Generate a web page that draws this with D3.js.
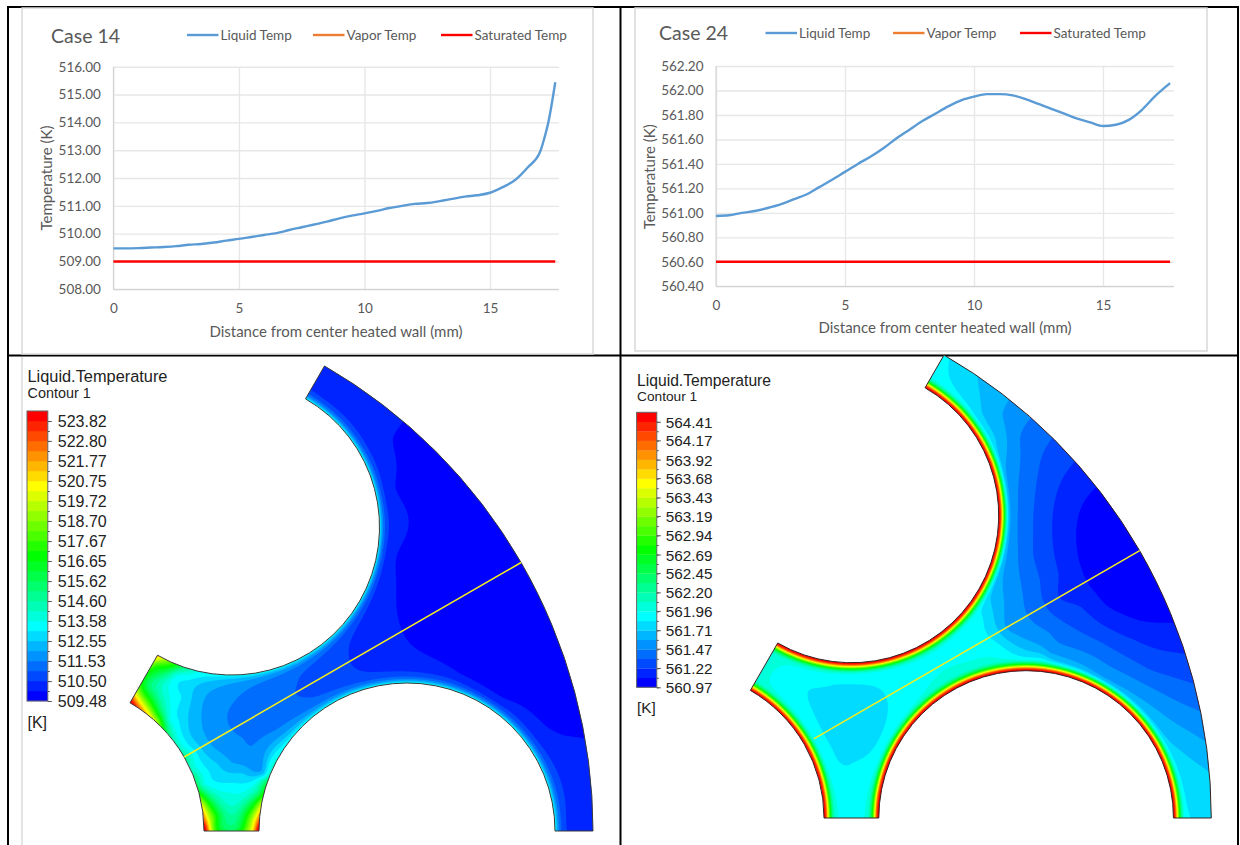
<!DOCTYPE html>
<html>
<head>
<meta charset="utf-8">
<script src="https://cdn.jsdelivr.net/npm/d3@7"></script>
<style>
  html, body { margin: 0; padding: 0; background: #fff; }
  svg { display: block; }
  .chart text { font-family: Lato, "Open Sans", sans-serif; fill: #595959; }
  .contour text { font-family: "Liberation Sans", Arial, sans-serif; fill: #222; }
  .body { filter: blur(0.5px); }
</style>
</head>
<body>
<svg width="1240" height="845"></svg>
<script>
// line charts
var case14Distance = [0, 0.5, 1, 1.5, 2, 2.5, 3, 3.5, 4, 4.5, 5, 5.5, 6, 6.5, 7, 7.5, 8, 8.5, 9, 9.5, 10, 10.5, 11, 11.5, 12, 12.5, 13, 13.5, 14, 14.5, 15, 15.5, 16, 16.5, 17, 17.2, 17.3, 17.6];
var case14Liquid = [509.47, 509.47, 509.48, 509.5, 509.52, 509.55, 509.6, 509.63, 509.68, 509.75, 509.81, 509.88, 509.95, 510.02, 510.13, 510.23, 510.33, 510.43, 510.55, 510.65, 510.73, 510.82, 510.92, 511.0, 511.07, 511.1, 511.17, 511.25, 511.33, 511.38, 511.47, 511.67, 511.93, 512.38, 512.95, 513.55, 513.9, 515.44];
var case14Sat = [509, 509];
var case24Distance = [0, 0.5, 1, 1.5, 2, 2.5, 3, 3.5, 4, 4.5, 5, 5.5, 6, 6.5, 7, 7.5, 8, 8.5, 9, 9.5, 10, 10.5, 11, 11.5, 12, 12.5, 13, 13.5, 14, 14.5, 15, 15.5, 16, 16.5, 17, 17.6];
var case24Liquid = [560.975, 560.98, 561.0, 561.015, 561.04, 561.07, 561.11, 561.15, 561.21, 561.27, 561.335, 561.4, 561.46, 561.53, 561.61, 561.68, 561.75, 561.81, 561.87, 561.92, 561.95, 561.97, 561.97, 561.96, 561.93, 561.89, 561.85, 561.81, 561.77, 561.74, 561.71, 561.72, 561.76, 561.84, 561.95, 562.06];
var case24Sat = [560.6, 560.6];
var satDistance = [0, 17.6];
var case14YTicks = [508, 509, 510, 511, 512, 513, 514, 515, 516];
var case24YTicks = [560.4, 560.6, 560.8, 561, 561.2, 561.4, 561.6, 561.8, 562, 562.2];
var distanceTicks = [0, 5, 10, 15];

// contour legends
var case14Legend = [509.48, 510.50, 511.53, 512.55, 513.58, 514.60, 515.62, 516.65, 517.67, 518.70, 519.72, 520.75, 521.77, 522.80, 523.82];
var case24Legend = [560.97, 561.22, 561.47, 561.71, 561.96, 562.20, 562.45, 562.69, 562.94, 563.19, 563.43, 563.68, 563.92, 564.17, 564.41];

// temperature samples on the sector, [u, v, T], u/v in sector units (outer radius 537)
var case14Field = [
  [347,409,509.99],[337,393,509.99],[338,343,509.99],[339,276,509.99],[340,251,509.99],[341,221,509.99],[347,199,509.99],[367,178,509.99],[404,156,509.99],[447,131,509.99],[491,104,509.99],[507,96,509.99],[527,93,509.99],
  [465,268,509.47],[400,231,509.6],[369,213,509.81],[440,240,509.5],[490,200,509.5],[500,150,509.6],[420,320,509.6],[380,340,509.8],[360,400,509.85],[400,340,509.65],
  [268,459,510.25],[260,443,510.25],[300,433,510.2],[332,304,510.25],[325,360,510.2],[514,6,510.3],[524,51,510.25],[504,71,510.3],[530,20,510.25],[330,170,510.25],[400,150,510.3],[450,120,510.3],[500,80,510.25],[320,200,510.2],
  [292,193,510.5],[293,176,510.5],[296,166,510.5],[312,156,510.5],
  [270,160,510.75],[242,159,511.02],[240,146,511.02],[242,134,511.02],[264,131,511.02],
  [196,148,511.53],[177,128,511.53],[171,114,511.53],[176,101,511.53],[187,93,511.53],[207,94,511.53],[221,101,511.53],[197,113,511.33],
  [164,146,512.04],[147,128,512.04],[146,108,512.04],[157,84,512.04],[174,71,512.04],[191,64,512.04],[207,58,512.04],
  [144,148,512.55],[136,134,512.55],[132,111,512.55],[141,88,512.55],[161,68,512.55],[187,58,512.55],
  [131,151,513.07],[126,134,513.07],[124,111,513.07],[134,84,513.07],[154,58,513.07],[177,48,513.07],
  [121,156,513.58],[114,134,513.58],[114,111,513.58],[147,48,513.58],[174,39,513.58],
  [76,129,524],[84,124,522],[94,119,519.5],[104,109,518],[114,93,515],[84,136,519],[94,131,517],[104,121,515.5],[92,146,515.5],
  [102,175,521.5],[109,171,519],[119,166,517],[129,163,515],[102,166,517.5],[109,161,516.3],[97,156,516],
  [176,3,515.4],[176,21,514.3],[176,58,512.55],[176,68,512.04],
  [150,3,523.8],[154,3,520.5],[157,3,518.5],[162,3,516.7],[168,3,515.6],[201,3,523.8],[199,3,521.5],[196,3,520],[191,3,518.5],[186,3,516.7],[180,3,515.5],
  [150,14,521],[153,14,519.5],[158,14,518],[164,14,516],[170,14,515],[201,14,521],[198,14,519.5],[193,14,518],[187,14,516],[181,14,515],
  [149,28,518.5],[153,28,516.8],[160,28,515.2],[168,28,514.2],[184,28,514.2],[192,28,515.2],[199,28,516.8],[203,28,518.5],
  [145,39,516.2],[150,39,515],[158,39,514],[195,39,514],[203,39,515],[206,39,516.2],
  [141,51,515],[146,51,514],[205,51,514],[210,51,515],[135,64,514],[216,64,514],[126,80,514.2],[130,75,514.8]
];
var case24Field = [
  [422,332,561.09],[408,314,561.09],[402,288,561.09],[405,258,561.09],[413,237,561.09],[432,214,561.09],[465,199,561.09],[497,197,561.09],
  [465,269,560.98],[440,300,561.0],[430,270,561.0],[470,230,561.0],[420,250,561.05],
  [399,359,561.22],[385,338,561.22],[377,304,561.22],[377,278,561.22],[383,244,561.22],[383,221,561.22],[405,212,561.22],[458,179,561.22],[510,164,561.22],
  [377,382,561.34],[365,358,561.34],[358,304,561.34],[358,264,561.34],[365,237,561.34],[370,214,561.34],[425,177,561.34],[475,149,561.34],[521,134,561.34],
  [356,402,561.46],[345,382,561.46],[343,314,561.46],[343,258,561.46],[348,224,561.46],[353,204,561.46],[375,186,561.46],[425,159,561.46],[475,132,561.46],[527,107,561.46],
  [334,418,561.58],[328,405,561.58],[330,352,561.58],[330,264,561.58],[328,231,561.58],[331,191,561.58],[375,166,561.58],[425,142,561.58],[452,129,561.58],[498,98,561.58],[531,78,561.58],
  [322,304,561.63],[318,340,561.65],[318,270,561.65],
  [302,438,561.71],[306,408,561.71],[320,380,561.71],[315,218,561.71],[324,187,561.71],[355,167,561.71],[385,154,561.71],[405,143,561.71],[465,102,561.71],[505,68,561.71],[535,45,561.71],
  [308,201,561.83],[325,174,561.83],[368,159,561.83],[276,438,561.83],[292,410,561.83],
  [267,462,561.86],[263,445,561.87],[285,447,561.78],
  [515,8,561.82],[530,8,561.77],[525,28,561.75],
  [133,129,561.83],[157,134,561.83],[184,134,561.83],[207,127,561.83],[212,108,561.83],[207,88,561.83],[191,63,561.83],[171,52,561.83],[157,68,561.83],[141,98,561.83],
  [175,100,561.76],[160,100,561.78],[190,110,561.77],
  [92,146,561.96],[104,151,561.95],[140,149,561.93],[154,141,561.89],[90,136,561.96],[107,126,561.92],[120,106,561.9],
  [250,150,561.92],[277,160,561.93],[241,139,561.92],[230,130,561.89],[290,175,561.87],
  [176,5,561.92],[176,25,561.9],[176,45,561.88],[155,20,561.95],[195,20,561.95],[116,80,561.95]
];

// sector geometry, same sector units
var outerR = 537, rodR = 148, pitch = 351, lineAngle = 30;
var ncol = 29; // colour bands in a legend

var svg = d3.select("svg");

var bandHue = d3.scaleLinear().domain([0, ncol - 1]).range([240, 0]);
function bandColor(i) {
  return d3.hsl(bandHue(i), 1, 0.5).formatHex();
}

// page frame
var frame = svg.append("g").attr("stroke", "#000").attr("stroke-width", 2);
frame.append("line").attr("x1", 8).attr("x2", 8).attr("y1", 6).attr("y2", 845);
frame.append("line").attr("x1", 620.5).attr("x2", 620.5).attr("y1", 6).attr("y2", 845);
frame.append("line").attr("x1", 1238).attr("x2", 1238).attr("y1", 6).attr("y2", 845);
frame.append("line").attr("x1", 8).attr("x2", 1238).attr("y1", 7).attr("y2", 7);
frame.append("line").attr("x1", 8).attr("x2", 1238).attr("y1", 355.5).attr("y2", 355.5);

svg.append("line").attr("x1", 22).attr("x2", 22).attr("y1", 357).attr("y2", 845)
  .attr("stroke", "#e4e4e4").attr("stroke-width", 2);

function drawChart(opt) {
  var g = svg.append("g").attr("class", "chart");

  g.append("rect")
    .attr("x", opt.box[0]).attr("y", opt.box[1])
    .attr("width", opt.box[2] - opt.box[0]).attr("height", opt.box[3] - opt.box[1])
    .attr("fill", "#fff").attr("stroke", "#d9d9d9").attr("stroke-width", 1.5);

  var x = d3.scaleLinear().domain([0, 15]).range([opt.x0, opt.x15]);
  var y = d3.scaleLinear().domain(d3.extent(opt.yTicks)).range([opt.yBottom, opt.yTop]);

  var xAxis = g.append("g")
    .attr("transform", "translate(0," + opt.yBottom + ")")
    .call(d3.axisBottom(x).tickValues(distanceTicks).tickFormat(d3.format("d")).tickSize(opt.yTop - opt.yBottom).tickPadding(13.8));
  var yAxis = g.append("g")
    .attr("transform", "translate(" + opt.x0 + ",0)")
    .call(d3.axisLeft(y).tickValues(opt.yTicks).tickFormat(d3.format(".2f")).tickSize(opt.x0 - opt.xRight).tickPadding(12.5));

  [xAxis, yAxis].forEach(function(a) {
    a.select(".domain").remove();
    a.selectAll("line").attr("stroke", "#e7e7e7").attr("stroke-width", 1.4);
    a.selectAll("text").attr("font-size", 13.5).attr("fill", "#595959");
    a.attr("font-family", null);
  });
  // the two axis lines are a bit darker
  g.append("line").attr("x1", opt.x0).attr("x2", opt.xRight).attr("y1", opt.yBottom).attr("y2", opt.yBottom).attr("stroke", "#d0d0d0");
  g.append("line").attr("x1", opt.x0).attr("x2", opt.x0).attr("y1", opt.yTop).attr("y2", opt.yBottom).attr("stroke", "#d0d0d0");

  var line = d3.line().curve(d3.curveMonotoneX).x(function(d) { return x(d[0]); }).y(function(d) { return y(d[1]); });

  g.append("path")
    .attr("d", line(d3.zip(opt.distance, opt.liquid)))
    .attr("fill", "none").attr("stroke", "#5b9bd5").attr("stroke-width", 2.4);
  g.append("path")
    .attr("d", line(d3.zip(satDistance, opt.sat)))
    .attr("fill", "none").attr("stroke", "#ff0000").attr("stroke-width", 2.4);

  g.append("text").attr("x", opt.titleX).attr("y", opt.titleY)
    .attr("font-size", 19.5).text(opt.title);
  g.append("text").attr("x", opt.xTitleX).attr("y", opt.xTitleY).attr("text-anchor", "middle")
    .attr("font-size", 15).text("Distance from center heated wall (mm)");
  g.append("text").attr("text-anchor", "middle").attr("font-size", 15)
    .attr("transform", "translate(" + opt.yTitleX + "," + opt.yTitleY + ") rotate(-90)")
    .text("Temperature (K)");

  var entries = [["Liquid Temp", "#5b9bd5"], ["Vapor Temp", "#ed7d31"], ["Saturated Temp", "#ff0000"]];
  entries.forEach(function(e, i) {
    var lx = opt.legendX[i];
    g.append("line").attr("x1", lx).attr("x2", lx + 31.5).attr("y1", opt.legendY).attr("y2", opt.legendY)
      .attr("stroke", e[1]).attr("stroke-width", 2.4);
    g.append("text").attr("x", lx + 33.5).attr("y", opt.legendY + 4.5).attr("font-size", 13.5).text(e[0]);
  });
}

// thin plate spline through the samples, so the bands stay smooth between them
function fitSpline(samples, toFit, lambda) {
  var n = samples.length, size = n + 3, a = [], i, j, k;
  for (i = 0; i < size; i++) a.push(new Float64Array(size + 1));
  for (i = 0; i < n; i++) {
    for (j = 0; j < n; j++) {
      var dx = (samples[i][0] - samples[j][0]) / 100, dy = (samples[i][1] - samples[j][1]) / 100;
      var r2 = dx * dx + dy * dy;
      a[i][j] = r2 > 0 ? 0.5 * r2 * Math.log(r2) : 0;
    }
    a[i][i] = lambda;
    a[i][n] = a[n][i] = 1;
    a[i][n + 1] = a[n + 1][i] = samples[i][0] / 100;
    a[i][n + 2] = a[n + 2][i] = samples[i][1] / 100;
    a[i][size] = toFit(samples[i][2]);
  }
  for (k = 0; k < size; k++) {
    var best = k;
    for (i = k + 1; i < size; i++) if (Math.abs(a[i][k]) > Math.abs(a[best][k])) best = i;
    var tmp = a[k]; a[k] = a[best]; a[best] = tmp;
    for (i = k + 1; i < size; i++) {
      var f = a[i][k] / a[k][k];
      if (f === 0) continue;
      for (j = k; j <= size; j++) a[i][j] -= f * a[k][j];
    }
  }
  var w = new Float64Array(size);
  for (k = size - 1; k >= 0; k--) {
    var sum = a[k][size];
    for (j = k + 1; j < size; j++) sum -= a[k][j] * w[j];
    w[k] = sum / a[k][k];
  }
  return w;
}

// bulk field from the samples, then the thin layer along the rod walls
function buildField(samples, grid, opt) {
  var values = new Float64Array(grid.nx * grid.ny);
  var px = pitch * Math.cos(Math.PI / 3), py = pitch * Math.sin(Math.PI / 3);
  var base = opt.fieldBase, n = samples.length;
  var w = fitSpline(samples, function(t) { return Math.log(t - base); }, opt.lambda);
  var i, j, k;
  for (j = 0; j < grid.ny; j++) {
    var v = grid.vMax - j;
    for (i = 0; i < grid.nx; i++) {
      var u = grid.uMin + i;
      var s = w[n] + w[n + 1] * u / 100 + w[n + 2] * v / 100;
      for (k = 0; k < n; k++) {
        var dx = (u - samples[k][0]) / 100, dy = (v - samples[k][1]) / 100;
        var r2 = dx * dx + dy * dy;
        if (r2 > 0) s += w[k] * 0.5 * r2 * Math.log(r2);
      }
      var t = base + Math.exp(s);
      var d = Math.min(Math.hypot(u, v), Math.hypot(u - pitch, v), Math.hypot(u - px, v - py)) - rodR;
      if (d < 0) d = 0;
      t += Math.max(0, opt.wallT - t) * Math.exp(-Math.pow(d / opt.wallWidth, opt.wallPow));
      values[j * grid.nx + i] = t;
    }
  }
  return values;
}

function sectorPath(xs, ys) {
  var scale = xs(1) - xs(0);
  var ox = xs(0), oy = ys(0), a60 = Math.PI / 3;
  var cx = xs(pitch * Math.cos(a60)), cy = ys(pitch * Math.sin(a60));
  var p = d3.path();
  p.moveTo(xs(rodR), oy);
  p.lineTo(xs(pitch - rodR), oy);
  p.arc(xs(pitch), oy, rodR * scale, Math.PI, 2 * Math.PI, false);
  p.lineTo(xs(outerR), oy);
  p.arc(ox, oy, outerR * scale, 0, -a60, true);
  p.lineTo(xs((pitch + rodR) * Math.cos(a60)), ys((pitch + rodR) * Math.sin(a60)));
  p.arc(cx, cy, rodR * scale, -a60, Math.PI - a60, false);
  p.lineTo(xs(rodR * Math.cos(a60)), ys(rodR * Math.sin(a60)));
  p.arc(ox, oy, rodR * scale, -a60, 0, false);
  p.closePath();
  return p.toString();
}

function drawContour(opt) {
  var g = svg.append("g").attr("class", "contour");
  var xs = d3.scaleLinear().domain([0, outerR]).range([opt.ox, opt.ox + outerR * opt.scale]);
  var ys = d3.scaleLinear().domain([0, outerR]).range([opt.oy, opt.oy - outerR * opt.scale]);

  var lo = opt.legend[0], hi = opt.legend[opt.legend.length - 1];
  var step = (hi - lo) / (ncol - 1);
  var levels = d3.range(1, ncol).map(function(i) { return lo + i * step; });

  var grid = {uMin: -6, nx: 552, vMax: 480, ny: 492};
  var values = buildField(opt.samples, grid, opt);
  var bands = d3.contours().size([grid.nx, grid.ny]).thresholds(levels)(Array.from(values));

  var project = d3.geoTransform({
    point: function(px, py) {
      this.stream.point(xs(grid.uMin + px - 0.5), ys(grid.vMax - py + 0.5));
    }
  });
  var geo = d3.geoPath(project);

  var d = sectorPath(xs, ys);
  g.append("clipPath").attr("id", opt.id).append("path").attr("d", d);
  var clipped = g.append("g").attr("clip-path", "url(#" + opt.id + ")");
  var body = clipped.append("g").attr("class", "body");
  body.append("rect").attr("x", opt.ox).attr("y", opt.oy - outerR).attr("width", outerR).attr("height", outerR)
    .attr("fill", bandColor(0));
  body.selectAll("path.band").data(bands).enter().append("path")
    .attr("class", "band")
    .attr("d", geo)
    .attr("fill", function(b, i) { return bandColor(i + 1); });
  g.append("path").attr("d", d).attr("fill", "none").attr("stroke", opt.edge).attr("stroke-width", 1);

  var cos30 = Math.cos(lineAngle * Math.PI / 180), sin30 = Math.sin(lineAngle * Math.PI / 180);
  g.append("line")
    .attr("x1", xs(opt.lineStart * cos30)).attr("y1", ys(opt.lineStart * sin30))
    .attr("x2", xs(outerR * cos30)).attr("y2", ys(outerR * sin30))
    .attr("stroke", "#f5ee1e").attr("stroke-width", 1.5);

  // colour bar
  var bandH = (opt.barBottom - opt.barTop) / ncol;
  var ly = d3.scaleLinear().domain([lo, hi]).range([opt.barBottom, opt.barTop + bandH]);
  g.selectAll("rect.key").data(d3.range(ncol)).enter().append("rect")
    .attr("class", "key")
    .attr("x", opt.barX).attr("width", opt.barW)
    .attr("y", function(i) { return ly(lo + (i + 1) * step); })
    .attr("height", bandH + 0.2)
    .attr("fill", bandColor);
  g.append("rect").attr("x", opt.barX).attr("y", opt.barTop).attr("width", opt.barW)
    .attr("height", opt.barBottom - opt.barTop).attr("fill", "none").attr("stroke", "#666").attr("stroke-width", 1);

  var minor = g.append("g").attr("transform", "translate(" + (opt.barX + opt.barW) + ",0)")
    .call(d3.axisRight(ly).tickValues(d3.range(0, ncol).map(function(i) { return lo + i * step; })).tickFormat("").tickSize(2));
  var major = g.append("g").attr("transform", "translate(" + (opt.barX + opt.barW) + ",0)")
    .call(d3.axisRight(ly).tickValues(opt.legend).tickFormat(d3.format(".2f")).tickSize(4).tickPadding(opt.labelPad));
  [minor, major].forEach(function(a) {
    a.select(".domain").remove();
    a.selectAll("line").attr("stroke", "#555");
    a.attr("font-family", null);
  });
  major.selectAll("text").attr("font-size", opt.labelSize).attr("dy", "0.36em");

  g.append("text").attr("x", opt.barX + 0.5).attr("y", opt.titleY).attr("font-size", opt.labelSize + 0.35).text("Liquid.Temperature");
  g.append("text").attr("x", opt.barX + 0.5).attr("y", opt.titleY + 15.5).attr("font-size", opt.labelSize - 1.6).text("Contour 1");
  g.append("text").attr("x", opt.barX + 0.5).attr("y", opt.unitY).attr("font-size", opt.labelSize).text("[K]");
}

drawChart({
  box: [22, 8, 593, 354], title: "Case 14", titleX: 51, titleY: 43,
  x0: 113.4, x15: 490, xRight: 559, yTop: 66.7, yBottom: 289.3,
  yTicks: case14YTicks, distance: case14Distance, liquid: case14Liquid, sat: case14Sat,
  xTitleX: 336, xTitleY: 337, yTitleX: 52, yTitleY: 178,
  legendX: [187, 313, 441], legendY: 35
});
drawChart({
  box: [635, 8, 1207, 351], title: "Case 24", titleX: 659, titleY: 40,
  x0: 716, x15: 1103, xRight: 1174, yTop: 66, yBottom: 286.3,
  yTicks: case24YTicks, distance: case24Distance, liquid: case24Liquid, sat: case24Sat,
  xTitleX: 945, xTitleY: 333, yTitleX: 655, yTitleY: 176.7,
  legendX: [765.5, 893, 1020], legendY: 33
});
drawContour({
  id: "clip14", legend: case14Legend, samples: case14Field, fieldBase: 508, lambda: 0.002,
  ox: 56, oy: 831, scale: 1, wallT: 513.5, wallWidth: 3.8, wallPow: 1, edge: "#3a3a3a", lineStart: 148,
  barX: 27, barW: 20.8, barTop: 411, barBottom: 701, labelPad: 6, labelSize: 16,
  titleY: 382, unitY: 728
});
drawContour({
  id: "clip24", legend: case24Legend, samples: case24Field, fieldBase: 560, lambda: 0.002,
  ox: 676.7, oy: 818, scale: 0.9955, wallT: 564.5, wallWidth: 6, wallPow: 2, edge: "#3a2020", lineStart: 159,
  barX: 636.6, barW: 20.2, barTop: 412.3, barBottom: 687.3, labelPad: 5, labelSize: 15.3,
  titleY: 385.5, unitY: 713
});
</script>
</body>
</html>
